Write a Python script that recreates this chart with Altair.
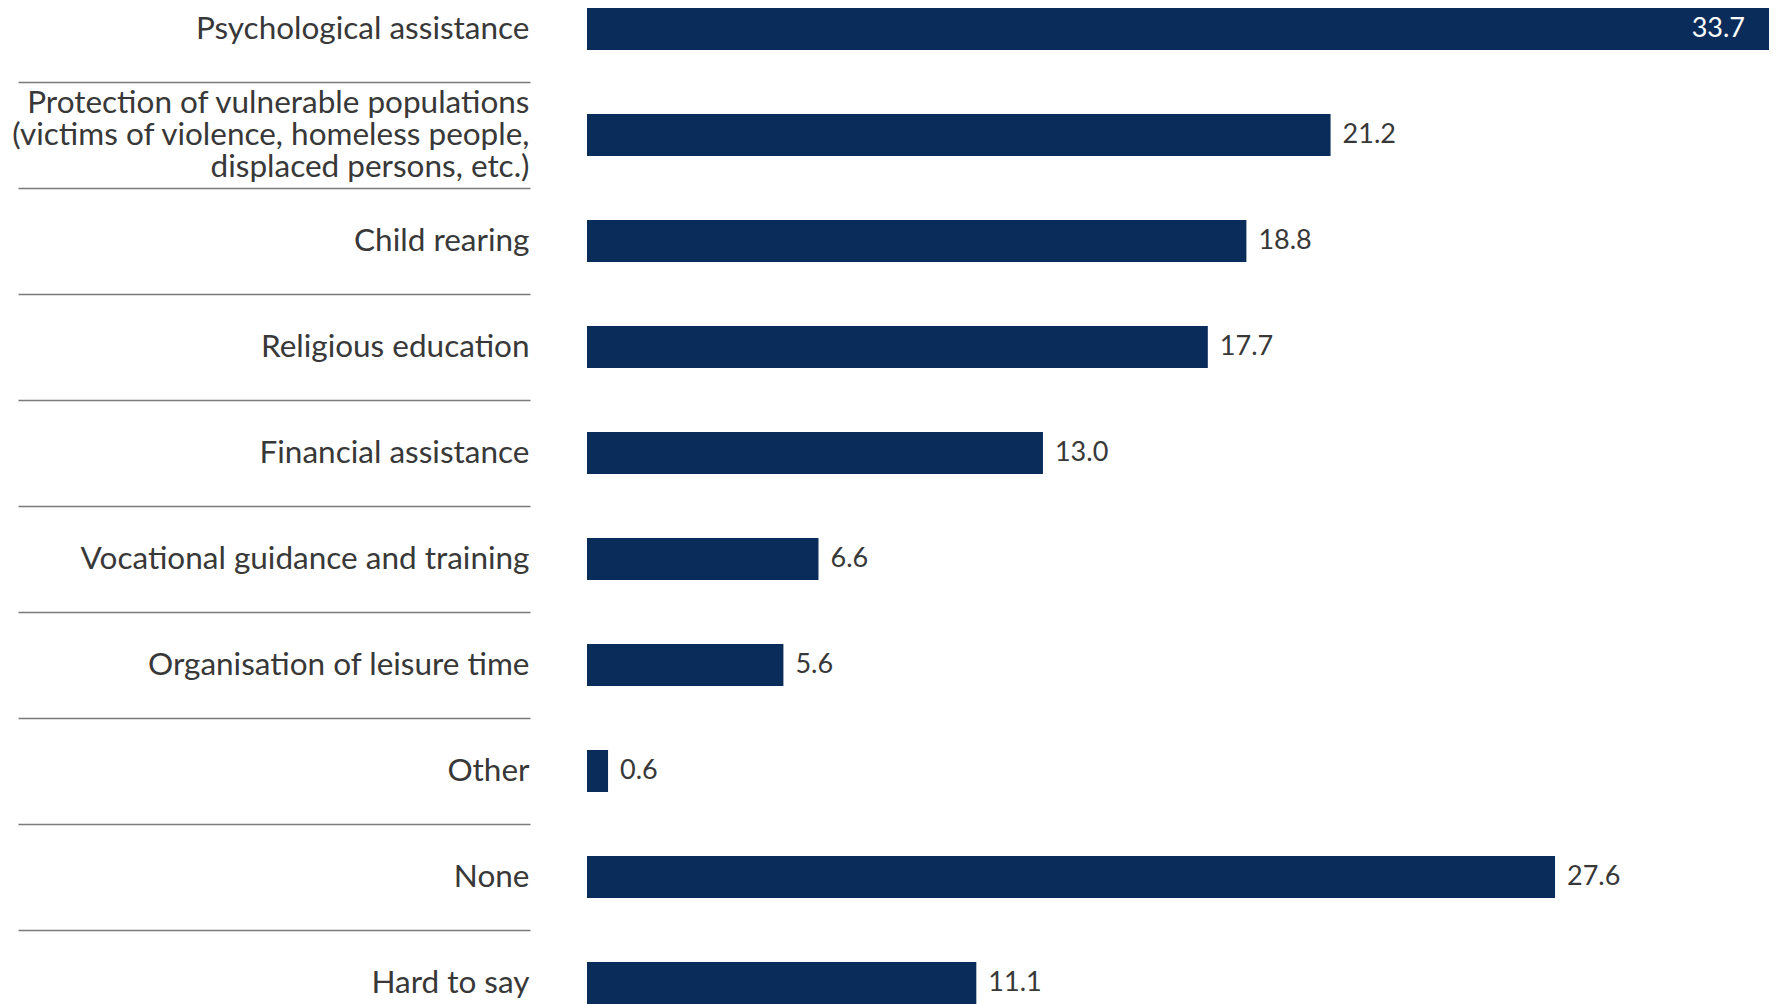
import altair as alt
import pandas as pd

categories = [
    "Psychological assistance",
    "Protection of vulnerable populations\n(victims of violence, homeless people,\ndisplaced persons, etc.)",
    "Child rearing",
    "Religious education",
    "Financial assistance",
    "Vocational guidance and training",
    "Organisation of leisure time",
    "Other",
    "None",
    "Hard to say",
]
values = [33.7, 21.2, 18.8, 17.7, 13.0, 6.6, 5.6, 0.6, 27.6, 11.1]

df = pd.DataFrame({"category": categories, "value": values})

BAR = "#0a2c5a"
TXT = "#383838"
FONT = "Lato"

y_enc = alt.Y(
    "category:N",
    sort=categories,
    scale=alt.Scale(range=[-32, 1028], paddingInner=0, paddingOuter=0),
    axis=alt.Axis(
        title=None,
        domain=False,
        offset=57,
        tickBand="extent",
        tickSize=512,
        tickColor="#7a7a7a",
        tickWidth=1.6,
        labelPadding=-511,
        labelAlign="right",
        labelBaseline="middle",
        labelFont=FONT,
        labelFontSize=31.5,
        labelColor=TXT,
        labelLimit=700,
        labelLineHeight=32,
        labelOffset=alt.condition(
            "isString(datum.value) && indexof(datum.value, '\\n') >= 0",
            alt.value(-32),
            alt.value(0),
        ),
        labelExpr="isString(datum.value) ? split(datum.value, '\\n') : ''",
    ),
)
x_enc = alt.X("value:Q", scale=alt.Scale(domain=[0, 33.7], nice=False, zero=True), axis=None)

base = alt.Chart(df)

bars = base.mark_bar(color=BAR, size=42).encode(x=x_enc, y=y_enc)

outside = base.transform_filter("datum.value < 30").mark_text(
    align="left", baseline="middle", dx=12, font=FONT, fontSize=27, color=TXT
).encode(x=x_enc, y=alt.Y("category:N", sort=categories), text=alt.Text("value:Q", format=".1f"))

inside = base.transform_filter("datum.value >= 30").mark_text(
    align="right", baseline="middle", dx=-24, font=FONT, fontSize=27, color="white"
).encode(x=x_enc, y=alt.Y("category:N", sort=categories), text=alt.Text("value:Q", format=".1f"))

chart = (
    alt.layer(bars, outside, inside)
    .properties(
        width=1182,
        height=996,
        autosize=alt.AutoSizeParams(type="none"),
        padding={"left": 579, "top": 0, "right": 4, "bottom": 0},
        background="white",
    )
    .configure_view(stroke=None)
)

chart.save("out.html", embed_options={"renderer": "svg", "actions": False})
